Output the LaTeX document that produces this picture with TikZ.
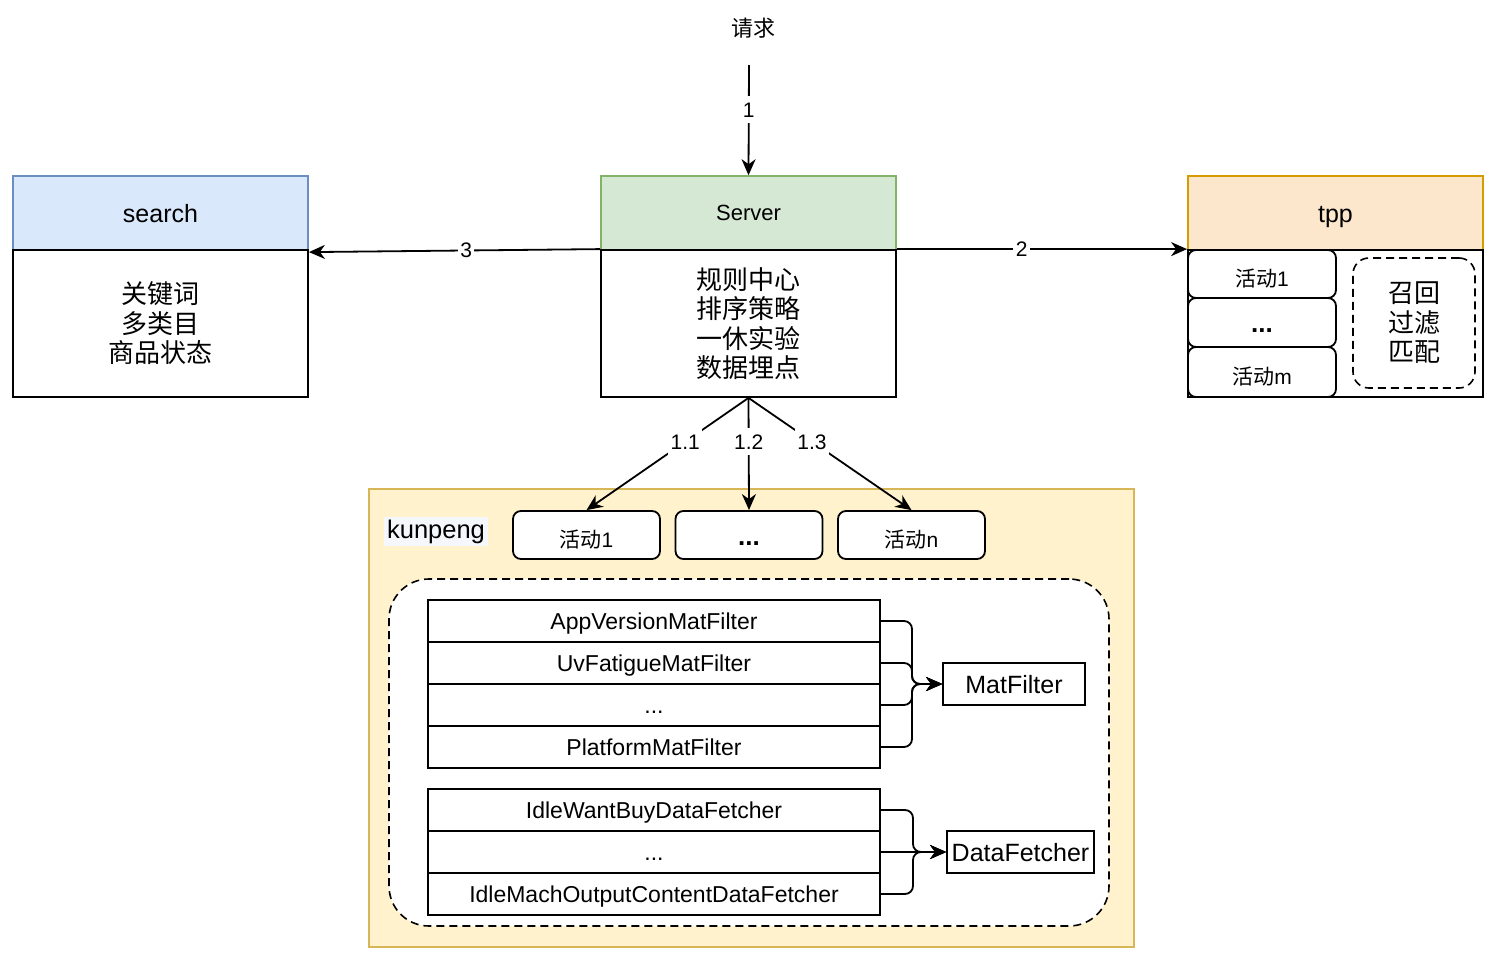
\documentclass[tikz,border=0pt]{standalone}
\usepackage{fontspec}
\setmainfont{Liberation Sans}
\newfontfamily\cjk{Noto Sans CJK SC}
\usetikzlibrary{arrows.meta}
\definecolor{blueF}{HTML}{DAE8FC}
\definecolor{blueD}{HTML}{6C8EBF}
\definecolor{greenF}{HTML}{D5E8D4}
\definecolor{greenD}{HTML}{82B366}
\definecolor{orangeF}{HTML}{FCE6CC}
\definecolor{orangeD}{HTML}{D79B00}
\definecolor{yellowF}{HTML}{FFF2CC}
\definecolor{yellowD}{HTML}{D6B656}
\definecolor{lblbg}{HTML}{F4F7FB}
\tikzset{
  hdr/.style={draw, line width=1.5pt, inner sep=0pt, minimum width=295pt, minimum height=74pt, text depth=0pt},
  bodyb/.style={draw=black, fill=white, line width=1.8pt, inner sep=0pt, align=center, minimum width=295pt, minimum height=147pt, font=\cjk\fontsize{26}{29.5}\selectfont},
  actbox/.style={draw, fill=white, rounded corners=8pt, line width=1.8pt, inner sep=0pt, font=\fontsize{21}{24}\selectfont, text height=25pt, text depth=0pt},
  dotbox/.style={draw, fill=white, rounded corners=8pt, line width=1.8pt, inner sep=0pt, font=\bfseries\fontsize{26}{28}\selectfont, text height=19pt, text depth=0pt},
  rowbox/.style={draw, fill=white, line width=1.8pt, minimum width=452pt, minimum height=42pt, inner sep=0pt, font=\fontsize{23}{26}\selectfont, text height=16.5pt, text depth=0pt},
  tgtbox/.style={draw, fill=white, line width=1.8pt, minimum height=42pt, inner sep=0pt, font=\fontsize{25}{28}\selectfont, text height=18pt, text depth=0pt},
  lbl/.style={fill=white, inner xsep=2.5pt, inner ysep=6pt, font=\fontsize{21}{24}\selectfont, text height=15pt, text depth=0pt},
  arr/.style={line width=1.8pt, -{Stealth[length=16pt,width=14pt,inset=5pt]}},
  brace/.style={arr, rounded corners=8pt},
  dsh/.style={draw, dash pattern=on 8pt off 5pt, line width=1.6pt}
}
\begin{document}
\begin{tikzpicture}[x=1pt,y=-1pt]
\useasboundingbox[fill=white] (0,0) rectangle (1500,956);

% request
\node[font=\cjk\fontsize{22}{26}\selectfont] (req) at (753,28) {请求};
\coordinate (reqs) at (749,65);

% Server
\node[hdr, fill=greenF, draw=greenD, font=\fontsize{22}{26}\selectfont, text height=15.8pt] (srvH) at (748.5,213) {Server};
\node[bodyb] (srvB) at (748.5,323.5) {规则中心\\排序策略\\一休实验\\数据埋点};

% search
\node[hdr, fill=blueF, draw=blueD, font=\fontsize{25}{28}\selectfont, text height=18pt] (srchH) at (160.5,213) {search};
\node[bodyb] (srchB) at (160.5,323.5) {关键词\\多类目\\商品状态};

% tpp
\node[hdr, fill=orangeF, draw=orangeD, font=\fontsize{25}{28}\selectfont, text height=18pt] (tppH) at (1335.5,213) {tpp};
\node[bodyb] (tppB) at (1335.5,323.5) {};
\node[actbox, minimum width=148pt, minimum height=48pt] (ta1) at (1262,274) {{\cjk 活动}1};
\node[dotbox, minimum width=148pt, minimum height=49pt] (ta2) at (1262,322.5) {...};
\node[actbox, minimum width=148pt, minimum height=50pt] (ta3) at (1262,372) {{\cjk 活动}m};
\node[dsh, rounded corners=16pt, minimum width=122pt, minimum height=130pt, align=center, font=\cjk\fontsize{26}{29.5}\selectfont, inner sep=0pt] (tppD) at (1414,323) {召回\\过滤\\匹配};

% kunpeng container
\node[draw=yellowD, fill=yellowF, line width=1.5pt, minimum width=765pt, minimum height=458pt] (kp) at (751.5,718) {};
\node[fill=lblbg, inner sep=3pt, font=\fontsize{25.5}{28}\selectfont, text height=18.4pt, text depth=5pt] (kpl) at (436,531.5) {kunpeng};
\node[actbox, minimum width=147pt, minimum height=48pt, text height=24pt] (a1) at (586.5,535) {{\cjk 活动}1};
\node[dotbox, minimum width=147pt, minimum height=48pt, text height=20pt] (a2) at (749,535) {...};
\node[actbox, minimum width=147pt, minimum height=48pt, text height=24pt] (a3) at (911.5,535) {{\cjk 活动}n};
\node[dsh, fill=white, rounded corners=40pt, minimum width=720pt, minimum height=347pt] (inner) at (749,752.5) {};

% filters
\node[rowbox] (f1) at (654,621) {AppVersionMatFilter};
\node[rowbox] (f2) at (654,663) {UvFatigueMatFilter};
\node[rowbox] (f3) at (654,705) {...};
\node[rowbox] (f4) at (654,747) {PlatformMatFilter};
\node[tgtbox, minimum width=142pt] (mf) at (1014,684) {MatFilter};

% fetchers
\node[rowbox] (d1) at (654,810) {IdleWantBuyDataFetcher};
\node[rowbox] (d2) at (654,852) {...};
\node[rowbox] (d3) at (654,894) {IdleMachOutputContentDataFetcher};
\node[tgtbox, minimum width=147pt] (df) at (1020.5,852) {DataFetcher};

% connectors
\draw[arr] (reqs) -- node[lbl, pos=0.405] {1} (srvH.north);
\draw[arr] (srvB.north east) -- node[lbl, pos=0.43] {2} (tppB.north west);
\draw[arr] (srvB.north west) -- node[lbl, pos=0.46] {3} ([yshift=-3pt]srchB.north east);
\draw[arr] (srvB.south) -- node[lbl, pos=0.39] {1.1} (a1.north);
\draw[arr] (srvB.south) -- node[lbl, pos=0.39] {1.2} (a2.north);
\draw[arr] (srvB.south) -- node[lbl, pos=0.39] {1.3} (a3.north);

\coordinate (xb) at (912,0);
\coordinate (xc) at (913,0);
\foreach \r in {f1,f2,f3,f4}{
  \draw[brace] (\r.east) -- (\r.east -| xb) -- (xb |- mf.west) -- (mf.west);
}
\draw[brace] (d1.east) -- (d1.east -| xc) -- (xc |- df.west) -- (df.west);
\draw[arr] (d2.east) -- (df.west);
\draw[brace] (d3.east) -- (d3.east -| xc) -- (xc |- df.west) -- (df.west);
\end{tikzpicture}
\end{document}
